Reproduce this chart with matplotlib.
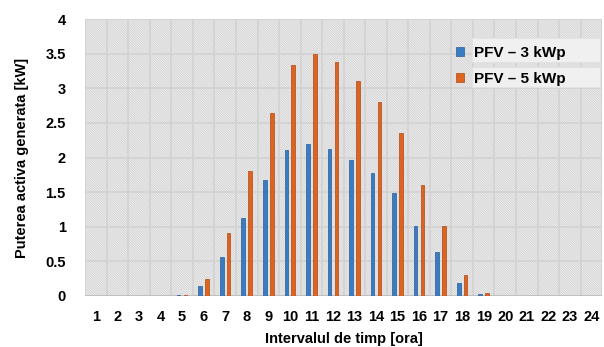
import numpy as np
import matplotlib
matplotlib.use("Agg")
import matplotlib.pyplot as plt
from matplotlib.patches import Rectangle

plt.rcParams['font.family'] = ['Liberation Sans', 'DejaVu Sans']
plt.rcParams['hatch.color'] = '#d6d6d6'
plt.rcParams['hatch.linewidth'] = 0.8

# Data
hours = list(range(1, 25))
pfv_3 = [0, 0, 0, 0, 0.01, 0.14, 0.57, 1.13, 1.67, 2.11, 2.20, 2.13,
         1.97, 1.77, 1.49, 1.01, 0.64, 0.19, 0.03, 0, 0, 0, 0, 0]
pfv_5 = [0, 0, 0, 0, 0.01, 0.24, 0.91, 1.80, 2.64, 3.34, 3.50, 3.38,
         3.10, 2.80, 2.36, 1.61, 1.01, 0.31, 0.04, 0, 0, 0, 0, 0]
labels = ['PFV – 3 kWp', 'PFV – 5 kWp']

fig = plt.figure(figsize=(6.04, 3.47), dpi=100)
ax = fig.add_axes([0.141, 0.147, 0.856, 0.798])

# hatched background of the plot area
ax.set_facecolor('#f5f5f5')
ax.add_patch(Rectangle((0, 0), 1, 1, transform=ax.transAxes, facecolor='none',
                       edgecolor='#d6d6d6', hatch='\\' * 14, linewidth=0, zorder=0))

x = np.arange(len(hours))
w = 0.17
ax.bar(x - 0.16, pfv_3, w, color='#3a7cc3', edgecolor='#2a5d96', linewidth=0.5,
       label=labels[0], zorder=3)
ax.bar(x + 0.16, pfv_5, w, color='#dc6420', edgecolor='#b04a12', linewidth=0.5,
       label=labels[1], zorder=3)

ax.set_xlim(-0.5, 23.5)
ax.set_ylim(0, 4)
ax.set_yticks(np.arange(0, 4.01, 0.5))
ax.set_yticklabels(['0', '0.5', '1', '1.5', '2', '2.5', '3', '3.5', '4'])
ax.set_xticks(x)
ax.set_xticklabels([str(h) for h in hours])
ax.set_xticks(np.arange(-0.5, 24, 1), minor=True)
ax.grid(True, which='minor', axis='x', color='#d2d2d2', linewidth=1.2, zorder=1)
ax.grid(True, which='major', axis='y', color='#d2d2d2', linewidth=1.2, zorder=1)
ax.set_axisbelow(True)
ax.tick_params(which='both', length=0)
ax.tick_params(axis='x', pad=10)
ax.tick_params(axis='y', pad=14)
for lab in ax.get_xticklabels() + ax.get_yticklabels():
    lab.set_fontweight('bold')
    lab.set_fontsize(10.5)
for s in ax.spines.values():
    s.set_visible(False)
ax.axhline(0, color='#bdbdbd', linewidth=1.2, zorder=2)

ax.set_xlabel('Intervalul de timp [ora]', fontsize=10.5, fontweight='bold', labelpad=6)
ax.set_ylabel('Puterea activa generata [kW]', fontsize=10.5, fontweight='bold', labelpad=12)

# light boxes behind the legend entries
for y0, h in [(0.845, 0.087), (0.755, 0.072)]:
    ax.add_patch(Rectangle((0.749, y0), 0.247, h, transform=ax.transAxes,
                           facecolor='#f0f0f0', edgecolor='#e2e2e2', linewidth=0.8, zorder=4))

leg = ax.legend(loc='upper left', bbox_to_anchor=(0.717, 0.903), frameon=False,
                prop={'weight': 'bold', 'size': 11}, handlelength=0.55, handleheight=0.55,
                handletextpad=0.65, labelspacing=0.8, borderpad=0, borderaxespad=0)
leg.set_zorder(5)

fig.savefig('out.png', dpi=100)
